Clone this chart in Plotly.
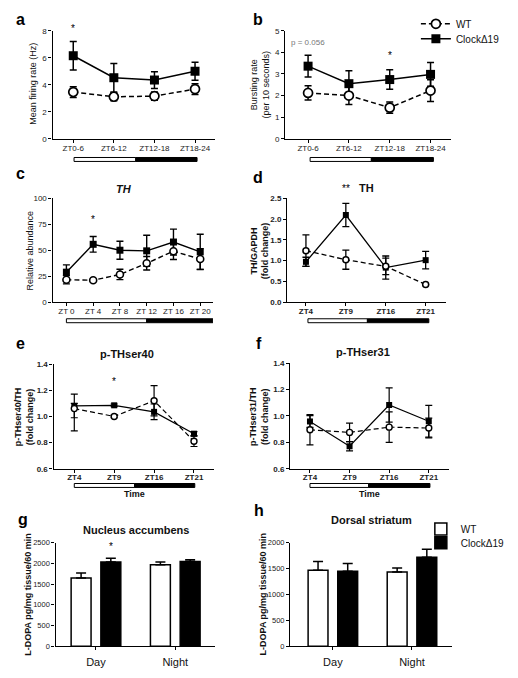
import plotly.graph_objects as go

# The page body has an 8px margin: the figure is drawn at (8,8), so it is 16px smaller
# and all pixel positions below are measured in the reference picture's coordinates.
OFF = 8
W, H = 518 - 2 * OFF, 678 - 2 * OFF
FONT = "Arial, Liberation Sans, Helvetica, sans-serif"

# ---------------- data ----------------
a_labels = ["ZT0-6", "ZT6-12", "ZT12-18", "ZT18-24"]
a_wt = [3.46, 3.11, 3.16, 3.68]
a_wt_err = [0.40, 0.30, 0.30, 0.40]
a_clock = [6.15, 4.52, 4.35, 5.0]
a_clock_err = [1.05, 1.05, 0.62, 0.67]

b_labels = ["ZT0-6", "ZT6-12", "ZT12-18", "ZT18-24"]
b_wt = [2.12, 2.0, 1.44, 2.23]
b_wt_err = [0.33, 0.42, 0.26, 0.5]
b_clock = [3.36, 2.55, 2.74, 2.98]
b_clock_err = [0.5, 0.6, 0.45, 0.55]

c_times = [0, 4, 8, 12, 16, 20]
c_labels = ["ZT 0", "ZT 4", "ZT 8", "ZT 12", "ZT 16", "ZT 20"]
c_wt = [21.5, 21, 26.6, 37.4, 49, 41.5]
c_wt_err = [4, 1, 5, 6.5, 8, 10]
c_clock = [28.8, 55.7, 50, 49.4, 57.9, 48.4]
c_clock_err = [7, 7.5, 8.7, 15, 12.5, 17]

zt_labels = ["ZT4", "ZT9", "ZT16", "ZT21"]
d_wt = [1.24, 1.02, 0.86, 0.42]
d_wt_err = [0.38, 0.23, 0.2, 0.0]
d_clock = [0.97, 2.1, 0.83, 1.01]
d_clock_err = [0.11, 0.28, 0.28, 0.21]

e_wt = [1.06, 1.0, 1.12, 0.81]
e_wt_err_up = [0.04, 0.01, 0.115, 0.04]
e_wt_err_down = [0.17, 0.01, 0.115, 0.04]
e_clock = [1.08, 1.085, 1.035, 0.868]
e_clock_err = [0.09, 0.01, 0.06, 0.015]

f_wt = [0.895, 0.875, 0.915, 0.908]
f_wt_err = [0.115, 0.07, 0.115, 0.075]
f_clock = [0.958, 0.77, 1.083, 0.96]
f_clock_err = [0.045, 0.035, 0.13, 0.12]

bar_groups = ["Day", "Night"]
g_wt = [1650, 1969]
g_wt_err = [120, 62]
g_clock = [2031, 2048]
g_clock_err = [95, 40]

h_wt = [1467, 1435]
h_wt_err = [170, 75]
h_clock = [1448, 1720]
h_clock_err = [150, 152]

# ---------------- helpers ----------------
def PX(x):
    return (x - OFF) / W

def PY(y):
    return 1 - (y - OFF) / H

fig = go.Figure()

def line_pair(n, labels_x, wt, wt_up, clock, clock_err, msize, lw, wt_down=None, legend=False):
    ax = "x" if n == 1 else f"x{n}"
    ay = "y" if n == 1 else f"y{n}"
    fig.add_trace(go.Scatter(
        x=labels_x, y=clock, xaxis=ax, yaxis=ay, mode="lines+markers",
        name="ClockΔ19", showlegend=legend, legend="legend3",
        line=dict(color="black", width=lw),
        marker=dict(symbol="square", size=msize, color="black"),
        error_y=dict(type="data", array=clock_err, color="black", thickness=lw, width=3.5),
        cliponaxis=False))
    ed = dict(type="data", array=wt_up, color="black", thickness=lw, width=3.5)
    if wt_down is not None:
        ed["symmetric"] = False
        ed["arrayminus"] = wt_down
    fig.add_trace(go.Scatter(
        x=labels_x, y=wt, xaxis=ax, yaxis=ay, mode="lines+markers",
        name="WT", showlegend=legend, legend="legend",
        line=dict(color="black", width=lw, dash="5px,3px"),
        marker=dict(symbol="circle", size=msize, color="white",
                    line=dict(color="black", width=lw + 0.2)),
        error_y=ed, cliponaxis=False))

def bar_pair(n, wt, wt_err, clock, clock_err, legend=False):
    ax = f"x{n}"
    ay = f"y{n}"
    idx = list(range(len(bar_groups)))
    fig.add_trace(go.Bar(
        x=idx, y=wt, xaxis=ax, yaxis=ay, name="WT", showlegend=legend, legend="legend2",
        marker=dict(color="white", line=dict(color="black", width=1.5)),
        error_y=dict(type="data", array=wt_err, arrayminus=[0] * len(wt), symmetric=False,
                     color="black", thickness=1.5, width=5)))
    fig.add_trace(go.Bar(
        x=idx, y=clock, xaxis=ax, yaxis=ay, name="ClockΔ19", showlegend=legend, legend="legend4",
        marker=dict(color="black", line=dict(color="black", width=1.5)),
        error_y=dict(type="data", array=clock_err, arrayminus=[0] * len(clock), symmetric=False,
                     color="black", thickness=1.5, width=5)))

idx4 = list(range(4))
line_pair(1, idx4, a_wt, a_wt_err, a_clock, a_clock_err, 9, 1.5, legend=True)
line_pair(2, idx4, b_wt, b_wt_err, b_clock, b_clock_err, 9, 1.5)
line_pair(3, c_times, c_wt, c_wt_err, c_clock, c_clock_err, 7, 1.4)
line_pair(4, idx4, d_wt, d_wt_err, d_clock, d_clock_err, 6, 1.3)
line_pair(5, idx4, e_wt, e_wt_err_up, e_clock, e_clock_err, 6, 1.2, wt_down=e_wt_err_down)
line_pair(6, idx4, f_wt, f_wt_err, f_clock, f_clock_err, 6, 1.2)
bar_pair(7, g_wt, g_wt_err, g_clock, g_clock_err)
bar_pair(8, h_wt, h_wt_err, h_clock, h_clock_err, legend=True)

# ---------------- axes ----------------
panels = {
    # n: (x0px, x1px, ytop_px, ybot_px, xrange, yrange, ytickvals, xtickvals, xticktext, bold)
    1: (53, 217, 27, 136.5, [-0.51, 3.49], [0, 8], [0, 2, 4, 6, 8], idx4, a_labels, False),
    2: (288, 455, 27, 136.5, [-0.56, 3.49], [0, 5], [0, 1, 2, 3, 4, 5], idx4, b_labels, False),
    3: (53, 215, 197, 302, [-2.07, 21.9], [0, 100], [0, 25, 50, 75, 100], c_times, c_labels, False),
    4: (290, 450, 197, 302, [-0.47, 3.5], [0, 2.5], [0, 0.5, 1.0, 1.5, 2.0, 2.5], idx4, zt_labels, True),
    5: (54, 216, 365, 471, [-0.52, 3.5], [0.6, 1.4], [0.6, 0.8, 1.0, 1.2, 1.4], idx4, zt_labels, True),
    6: (293, 453, 364, 471, [-0.5, 3.5], [0.6, 1.4], [0.6, 0.8, 1.0, 1.2, 1.4], idx4, zt_labels, True),
    7: (56, 217, 546, 651, [-0.51, 1.5], [0, 2500], [0, 500, 1000, 1500, 2000, 2500], [0, 1], bar_groups, False),
    8: (293, 456, 546, 651, [-0.54, 1.5], [0, 2000], [0, 500, 1000, 1500, 2000], [0, 1], bar_groups, False),
}
ytickformat = {1: "", 2: "", 3: "", 4: ".1f", 5: ".1f", 6: ".1f", 7: "", 8: ""}

layout_axes = {}
for n, (x0, x1, yt, yb, xr, yr, ytv, xtv, xtt, bold) in panels.items():
    xs = "xaxis" if n == 1 else f"xaxis{n}"
    ys = "yaxis" if n == 1 else f"yaxis{n}"
    anchor_x = "x" if n == 1 else f"x{n}"
    anchor_y = "y" if n == 1 else f"y{n}"
    tf = dict(family=FONT, size=8, color="#222", weight="bold" if bold else "normal")
    xfont = dict(tf)
    yfont = dict(tf)
    xstand = -2
    if n >= 7:
        xfont = dict(family=FONT, size=11, color="#111")
        yfont = dict(family=FONT, size=7.5, color="#222")
        xstand = 2
    layout_axes[xs] = dict(domain=[PX(x0), PX(x1)], range=xr, anchor=anchor_y,
                           showline=True, linecolor="black", linewidth=1.3,
                           ticks="outside", ticklen=3, tickwidth=1.2, tickcolor="black",
                           tickvals=xtv, ticktext=xtt, tickfont=xfont, ticklabelstandoff=xstand,
                           showgrid=False, zeroline=False, fixedrange=True)
    layout_axes[ys] = dict(domain=[PY(yb), PY(yt)], range=yr, anchor=anchor_x,
                           showline=True, linecolor="black", linewidth=1.3,
                           ticks="outside", ticklen=3, tickwidth=1.2, tickcolor="black",
                           tickvals=ytv, tickformat=ytickformat[n], tickfont=yfont,
                           showgrid=False, zeroline=False, fixedrange=True)

# ---------------- light/dark bars ----------------
# (axis n, start, light end, dark end, top px)
ld_bars = [
    (1, 0.02, 1.54, 3.05, 155.5),
    (2, 0.05, 1.55, 3.07, 155.5),
    (3, 0.0, 12, 21.9, 319),
    (4, 0.05, 1.54, 3.08, 319),
    (5, 0.0, 1.51, 3.02, 486),
    (6, 0.0, 1.48, 3.03, 486),
]
shapes = []
for n, s, m, e, top in ld_bars:
    xr = "x" if n == 1 else f"x{n}"
    shapes.append(dict(type="rect", xref=xr, yref="paper", x0=s, x1=m, y0=PY(top + 4), y1=PY(top),
                       fillcolor="white", line=dict(color="black", width=1)))
    shapes.append(dict(type="rect", xref=xr, yref="paper", x0=m, x1=e, y0=PY(top + 4), y1=PY(top),
                       fillcolor="black", line=dict(color="black", width=1)))

# ---------------- annotations ----------------
ann = []
def pa(text, x, y, size=9, bold=False, italic=False, angle=0, color="#111", xanchor="center"):
    t = text
    if bold:
        t = f"<b>{t}</b>"
    if italic:
        t = f"<i>{t}</i>"
    ann.append(dict(text=t, x=PX(x), y=PY(y), xref="paper", yref="paper", showarrow=False,
                    font=dict(family=FONT, size=size, color=color), textangle=angle,
                    xanchor=xanchor, yanchor="middle"))

for lab, x, y in [("a", 21, 16), ("b", 261, 16), ("c", 21, 172), ("d", 261, 176),
                  ("e", 21, 344), ("f", 262, 344), ("g", 23, 522), ("h", 262, 513)]:
    pa(lab, x, y, size=16, bold=True, color="black")

pa("TH", 125, 187, size=11, bold=True, italic=True)
pa("TH", 370, 186, size=11, bold=True)
pa("p-THser40", 128, 355, size=11, bold=True)
pa("p-THser31", 367, 353, size=11, bold=True)
pa("Nucleus accumbens", 137, 533, size=11, bold=True)
pa("Dorsal striatum", 375, 523, size=11, bold=True)

pa("Mean firing rate (Hz)", 33, 81, size=9, angle=-90)
pa("Bursting rate<br>(per 10 seconds)", 263, 81, size=9, angle=-90)
pa("Relative abundance", 30, 250, size=9, angle=-90)
pa("TH/GAPDH<br>(fold change)", 262, 250, size=9, bold=True, angle=-90)
pa("p-THser40/TH<br>(fold change)", 25, 418, size=9, bold=True, angle=-90)
pa("p-THser31/TH<br>(fold change)", 262, 418, size=9, bold=True, angle=-90)
pa("L-DOPA pg/mg tissue/60 min", 28, 598, size=9, bold=True, angle=-90)
pa("L-DOPA pg/mg tissue/60 min", 266, 598, size=9, bold=True, angle=-90)
pa("Time", 136, 497, size=9, bold=True)
pa("Time", 373, 497, size=9, bold=True)

def da(text, n, x, ydom, size=10, color="black"):
    # x in data units, y as a fraction of the plot height (may exceed 1)
    xr = "x" if n == 1 else f"x{n}"
    yr = "y domain" if n == 1 else f"y{n} domain"
    ann.append(dict(text=text, x=x, y=ydom, xref=xr, yref=yr, showarrow=False,
                    font=dict(family=FONT, size=size, color=color), yanchor="middle"))

da("*", 1, 0, 1.02)
da("*", 2, 2, 0.77)
da("*", 3, 4, 0.80)
da("**", 4, 1, 1.095)
da("*", 5, 1, 0.83)
da("*", 7, 0.19, 0.96)
ann.append(dict(text="p = 0.056", x=0, y=4.47, xref="x2", yref="y2", showarrow=False,
                font=dict(family=FONT, size=8, color="#777"), yanchor="middle"))

def leg(y_px, x_px=420):
    return dict(x=PX(x_px), y=PY(y_px), xanchor="left", yanchor="middle",
                font=dict(family=FONT, size=10, color="#111"),
                bgcolor="rgba(0,0,0,0)", tracegroupgap=0)

fig.update_layout(
    width=W, height=H, margin=dict(l=0, r=0, t=0, b=0),
    paper_bgcolor="white", plot_bgcolor="white",
    font=dict(family=FONT, size=9, color="#111"),
    barmode="group", bargap=0.25, bargroupgap=0.33,
    shapes=shapes, annotations=ann,
    legend=leg(20), legend3=leg(35),
    legend2=leg(532, 425), legend4=leg(546, 425),
    **layout_axes,
)

fig.write_html("out.html")
